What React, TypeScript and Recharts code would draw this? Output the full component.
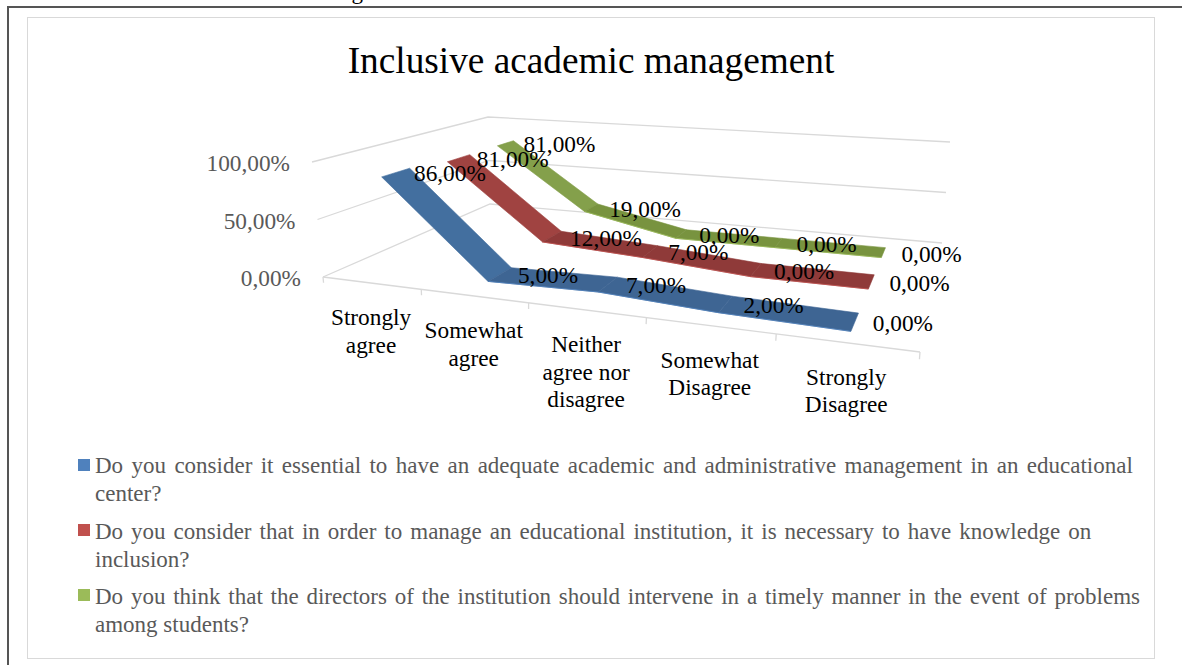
import React from 'react';
import { ScatterChart, Scatter, XAxis, YAxis, Legend } from 'recharts';

const W = 1182;
const H = 665;
const FONT = '"Liberation Serif", "Times New Roman", serif';

const chartTitle = 'Inclusive academic management';
const categories = [
  ['Strongly', 'agree'],
  ['Somewhat', 'agree'],
  ['Neither', 'agree nor', 'disagree'],
  ['Somewhat', 'Disagree'],
  ['Strongly', 'Disagree'],
];
const valueTicks = [0, 50, 100];
const seriesBlue = [86, 5, 7, 2, 0];
const seriesRed = [81, 12, 7, 0, 0];
const seriesGreen = [81, 19, 0, 0, 0];

const legendLines: Record<string, string[]> = {
  blue: [
    'Do you consider it essential to have an adequate academic and administrative management in an educational',
    'center?',
  ],
  red: [
    'Do you consider that in order to manage an educational institution, it is necessary to have knowledge on',
    'inclusion?',
  ],
  green: [
    'Do you think that the directors of the institution should intervene in a timely manner in the event of problems',
    'among students?',
  ],
};

const fmt = (v: number) => v.toFixed(2).replace('.', ',') + '%';

type Pt = [number, number];
function quad(p0: Pt, p1: Pt, p2: Pt, p3: Pt) {
  const dx1 = p1[0] - p2[0], dx2 = p3[0] - p2[0], sx = p0[0] - p1[0] + p2[0] - p3[0];
  const dy1 = p1[1] - p2[1], dy2 = p3[1] - p2[1], sy = p0[1] - p1[1] + p2[1] - p3[1];
  const den = dx1 * dy2 - dx2 * dy1;
  const g = (sx * dy2 - dx2 * sy) / den;
  const h = (dx1 * sy - sx * dy1) / den;
  const a = p1[0] - p0[0] + g * p1[0], b = p3[0] - p0[0] + h * p3[0], c = p0[0];
  const d = p1[1] - p0[1] + g * p1[1], e = p3[1] - p0[1] + h * p3[1], f = p0[1];
  return (s: number, t: number): Pt => {
    const w = g * s + h * t + 1;
    return [(a * s + b * t + c) / w, (d * s + e * t + f) / w];
  };
}
// The 3D box of the plot: floor and 100% plane
const floor = quad([323, 277], [920, 352], [942, 243], [490, 204]);
const ceil = quad([312, 162], [931, 208], [950, 142], [488, 117]);
const project = (cat: number, depth: number, value: number) => {
  const s = cat / categories.length;
  const a = floor(s, depth);
  const b = ceil(s, depth);
  const v = value / 100;
  return { x: a[0] + (b[0] - a[0]) * v, y: a[1] + (b[1] - a[1]) * v };
};

type SeriesDef = { key: string; values: number[]; depth: [number, number]; color: string; first: string; rest: string };
const seriesDefs: SeriesDef[] = [
  { key: 'green', values: seriesGreen, depth: [0.76, 0.88], color: '#9bbb59', first: '#84a04b', rest: '#78933f' },
  { key: 'red', values: seriesRed, depth: [0.43, 0.57], color: '#c0504d', first: '#a04341', rest: '#8f3a39' },
  { key: 'blue', values: seriesBlue, depth: [0.08, 0.22], color: '#4f81bd', first: '#436f9f', rest: '#3e6593' },
];

const ribbonData = (s: SeriesDef) => {
  const front = s.values.map((v, i) => project(i + 0.5, s.depth[0], v));
  const back = s.values.map((v, i) => project(i + 0.5, s.depth[1], v));
  return [...front, ...back.reverse()];
};
const labelData = (s: SeriesDef) =>
  s.values.map((v, i) => {
    const p = project(i + 0.5, (s.depth[0] + s.depth[1]) / 2, v);
    return { ...p, text: fmt(v) };
  });

const gridData = valueTicks.map((v) => [project(0, 0, v), project(0, 1, v), project(5, 1, v)]);
const frontEdge = [project(0, 0, 0), project(5, 0, 0)];
const tickData = [0, 1, 2, 3, 4, 5].map((i) => [project(i, 0, 0), project(i, 0, -5)]);
const valueLabelData = valueTicks.map((v) => ({ ...project(0, 0, v), text: fmt(v) }));
const catLabelData = categories.map((lines, i) => ({ ...project(i + 0.5, 0, 0), lines }));

const Ribbon = (s: SeriesDef) => (props: any) => {
  const pts = props.points as { x: number; y: number }[];
  const n = pts.length / 2;
  const out: React.ReactNode[] = [];
  for (let i = 0; i < n - 1; i++) {
    const q = [pts[i], pts[i + 1], pts[2 * n - 2 - i], pts[2 * n - 1 - i]];
    out.push(
      <polygon
        key={i}
        points={q.map((p) => `${p.x},${p.y}`).join(' ')}
        fill={i === 0 ? s.first : s.rest}
        stroke={i === 0 ? s.first : s.rest}
        strokeWidth={0.6}
      />
    );
  }
  const edge = pts.slice(1, n).map((p) => `${p.x},${p.y}`).join(' ');
  out.push(<polyline key="edge" points={edge} fill="none" stroke={s.color} strokeWidth={1} strokeOpacity={0.8} />);
  return <g>{out}</g>;
};

const Nothing = () => <g />;

const DataLabel = (p: any) => (
  <text x={p.cx + 18} y={p.cy + 9} textAnchor="start" fontFamily={FONT} fontSize={23.3} fill="#000">
    {p.payload.text}
  </text>
);
const ValueLabel = (p: any) => (
  <text x={p.cx - 22} y={p.cy + 9} textAnchor="end" fontFamily={FONT} fontSize={23.3} fill="#595959">
    {p.payload.text}
  </text>
);
const CatLabel = (p: any) => (
  <text textAnchor="middle" fontFamily={FONT} fontSize={23.3} fill="#000">
    {p.payload.lines.map((l: string, i: number) => (
      <tspan key={i} x={p.cx} y={p.cy + 42 + i * 27.7}>
        {l}
      </tspan>
    ))}
  </text>
);

const legendSpacing: Record<string, number> = { blue: 2.64, red: 2.24, green: 2.05 };
const legendTop: Record<string, number> = { blue: 473, red: 539, green: 604 };
const swatchTop: Record<string, number> = { blue: 459, red: 524, green: 589 };

const LegendContent = (props: any) => {
  const items = (props.payload || []).filter((it: any) => legendLines[it.value]);
  return (
    <div style={{ position: 'relative', width: W, height: H }}>
      {items.map((it: any) => {
        const k = it.value;
        const top = legendTop[k];
        return (
          <React.Fragment key={k}>
            <div style={{ position: 'absolute', left: 78, top: swatchTop[k], width: 12, height: 12, background: it.color }} />
            {legendLines[k].map((line: string, i: number) => (
              <div
                key={i}
                style={{
                  position: 'absolute',
                  left: 95,
                  top: top - 21 + i * 27.5,
                  fontFamily: FONT,
                  fontSize: 23,
                  lineHeight: '27px',
                  whiteSpace: 'nowrap',
                  color: '#595959',
                  wordSpacing: i === 0 ? legendSpacing[k] : 0,
                }}
              >
                {line}
              </div>
            ))}
          </React.Fragment>
        );
      })}
    </div>
  );
};

export default function App() {
  return (
    <div style={{ position: 'fixed', left: 0, top: 0, width: W, height: H, background: '#fff', overflow: 'hidden' }}>
      <div style={{ position: 'absolute', left: 7, top: 6, right: 0, height: 1.5, background: '#555' }} />
      <div style={{ position: 'absolute', left: 7, top: 6, bottom: 0, width: 1.5, background: '#555' }} />
      <div style={{ position: 'absolute', left: 27, top: 17, width: 1126, height: 640, border: '1.5px solid #d9d9d9' }} />
      <div style={{ position: 'absolute', left: 300, top: -21, fontFamily: FONT, fontSize: 23, color: '#000', width: 63, textAlign: 'right' }}>g</div>
      <div style={{ position: 'absolute', left: 0, width: W, top: 39, textAlign: 'center', fontFamily: FONT, fontSize: 37.3, lineHeight: '43px', color: '#000' }}>
        {chartTitle}
      </div>
      <div style={{ position: 'absolute', left: 0, top: 0 }}>
        <ScatterChart width={W} height={H} margin={{ top: 0, right: 0, bottom: 0, left: 0 }}>
          <XAxis type="number" dataKey="x" domain={[0, W]} hide />
          <YAxis type="number" dataKey="y" domain={[0, H]} reversed hide />
          <Legend
            layout="vertical"
            align="center"
            verticalAlign="middle"
            wrapperStyle={{ left: 0, top: 0, width: W, height: H, pointerEvents: 'none' }}
            content={LegendContent}
          />
          {gridData.map((d, i) => (
            <Scatter key={'grid' + i} data={d} legendType="none" shape={Nothing} line={{ stroke: '#d9d9d9', strokeWidth: 1.3 }} isAnimationActive={false} />
          ))}
          <Scatter data={frontEdge} legendType="none" shape={Nothing} line={{ stroke: '#d9d9d9', strokeWidth: 1.3 }} isAnimationActive={false} />
          {tickData.map((d, i) => (
            <Scatter key={'tick' + i} data={d} legendType="none" shape={Nothing} line={{ stroke: '#d9d9d9', strokeWidth: 1.3 }} isAnimationActive={false} />
          ))}
          {seriesDefs.map((s) => (
            <Scatter
              key={s.key}
              name={s.key}
              data={ribbonData(s)}
              fill={s.color}
              shape={Nothing}
              line={Ribbon(s)}
              isAnimationActive={false}
            />
          ))}
          <Scatter data={valueLabelData} legendType="none" shape={ValueLabel} isAnimationActive={false} />
          <Scatter data={catLabelData} legendType="none" shape={CatLabel} isAnimationActive={false} />
          {seriesDefs.map((s) => (
            <Scatter key={'lab' + s.key} data={labelData(s)} legendType="none" shape={DataLabel} isAnimationActive={false} />
          ))}
        </ScatterChart>
      </div>
    </div>
  );
}
